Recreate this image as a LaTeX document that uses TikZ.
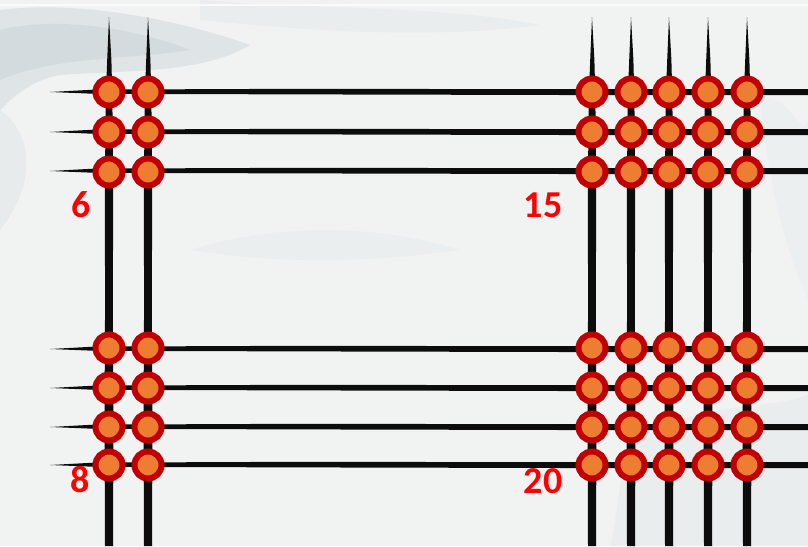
\documentclass[tikz,border=0pt]{standalone}
\usepackage{fontspec}
\setmainfont{Carlito}
\definecolor{ringred}{RGB}{192,0,0}
\definecolor{dotorange}{RGB}{237,125,49}
\definecolor{bgbase}{RGB}{241,243,243}
\definecolor{cloud}{RGB}{170,185,192}
\definecolor{labelred}{RGB}{255,0,0}
\definecolor{ink}{RGB}{12,12,12}
\begin{document}
\begin{tikzpicture}[x=1pt,y=-1pt,
  dot/.style={circle,minimum size=27pt,inner sep=0pt,fill=dotorange,draw=ringred,line width=6pt},
  numlabel/.style={text=labelred,font=\bfseries\fontsize{38}{38}\selectfont,inner sep=0pt},
  wash/.style={fill=cloud,draw=none}]
\useasboundingbox (0,0) rectangle (808,546);
% background
\fill[bgbase] (0,0) rectangle (808,546);
\begin{scope}
\fill[wash,opacity=0.25] (0,10) .. controls (80,0) and (180,20) .. (250,45) .. controls (200,75) and (120,70) .. (60,75) .. controls (30,80) and (10,100) .. (0,110) -- cycle;
\fill[wash,opacity=0.2] (0,30) .. controls (60,15) and (140,30) .. (190,50) .. controls (130,60) and (60,55) .. (0,80) -- cycle;
\fill[wash,opacity=0.12] (0,110) .. controls (30,130) and (40,180) .. (0,230) -- cycle;
\fill[wash,opacity=0.1] (200,0) .. controls (320,10) and (440,5) .. (540,25) .. controls (430,40) and (300,30) .. (200,20) -- cycle;
\fill[wash,opacity=0.08] (190,250) .. controls (280,222) and (380,225) .. (460,250) .. controls (380,262) and (280,265) .. (190,250) -- cycle;
\fill[wash,opacity=0.1] (640,440) .. controls (700,400) and (770,410) .. (808,395) -- (808,546) -- (610,546) .. controls (620,510) and (615,470) .. (640,440) -- cycle;
\fill[wash,opacity=0.06] (760,100) .. controls (790,90) and (800,140) .. (808,120) -- (808,300) .. controls (790,260) and (770,200) .. (760,100) -- cycle;
\fill[white,opacity=0.7] (0,4) rectangle (808,5.5);
\end{scope}
% horizontal brush lines
\foreach \yy in {92,132,171,349,388,427,465}{
  \fill[ink] (50,\yy) -- (95,\yy-2.4) -- (300,\yy-3.2) -- (560,\yy-2.8) -- (808,\yy-3)
        -- (808,\yy+3) -- (560,\yy+3) -- (300,\yy+2.4) -- (95,\yy+1.8) -- cycle;
}
% vertical brush lines
\foreach \xx in {109,148,592,631,669,708,747}{
  \fill[ink] (\xx,17) -- (\xx+2.4,60) -- (\xx+3.4,100) -- (\xx+4.2,200) -- (\xx+3.8,300) -- (\xx+4.5,420) -- (\xx+4,546)
        -- (\xx-4,546) -- (\xx-4.5,420) -- (\xx-3.9,300) -- (\xx-4.2,200) -- (\xx-3.3,100) -- (\xx-1.8,60) -- cycle;
}
% beads
\foreach \c/\xx in {1/109,2/148}{
  \foreach \r/\yy in {1/92,2/132,3/172}{
    \node[dot] (tl-\r-\c) at (\xx,\yy) {};
  }
  \foreach \r/\yy in {1/348,2/388,3/427,4/465}{
    \node[dot] (bl-\r-\c) at (\xx,\yy) {};
  }
}
\foreach \c/\xx in {1/592,2/631,3/669,4/708,5/747}{
  \foreach \r/\yy in {1/92,2/132,3/172}{
    \node[dot] (tr-\r-\c) at (\xx,\yy) {};
  }
  \foreach \r/\yy in {1/348,2/388,3/427,4/465}{
    \node[dot] (br-\r-\c) at (\xx,\yy) {};
  }
}
% labels
\node[numlabel] (n6) at (81,205) {6};
\node[numlabel] (n15) at (543,205) {15};
\node[numlabel] (n8) at (80,480) {8};
\node[numlabel] (n20) at (543,481) {20};
\end{tikzpicture}
\end{document}
